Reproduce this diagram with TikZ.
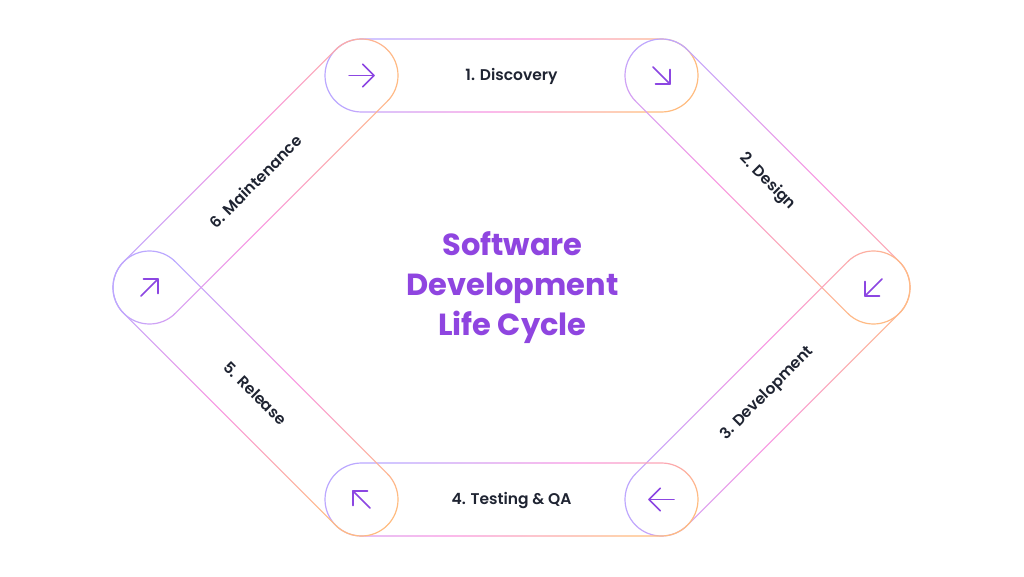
\documentclass[tikz,border=0pt]{standalone}
\usepackage{fontspec}
\setmainfont{Poppins}
\newfontfamily\lblfont{Poppins}[UprightFont={* SemiBold}]
\newfontfamily\ttlfont{Poppins}[UprightFont={* Bold}]
\usetikzlibrary{calc}
\definecolor{lav}{HTML}{BBA8FF}
\definecolor{pnk}{HTML}{F995E2}
\definecolor{orn}{HTML}{FFBC80}
\definecolor{ttl}{HTML}{8F45E0}
\definecolor{arw}{HTML}{8C46E2}
\definecolor{ink}{HTML}{1F2432}
\newcommand\stadpath[4]{($(#1)+(#3+90:#4)$) -- ($(#2)+(#3+90:#4)$) arc[start angle=#3+90, end angle=#3-90, radius=#4] -- ($(#1)+(#3-90:#4)$) arc[start angle=#3-90, end angle=#3-270, radius=#4] -- cycle}
\newcommand\ring[4]{\shade[even odd rule, top color=lav, bottom color=orn, middle color=pnk, shading angle=#4] \stadpath{#1}{#2}{#3}{37.1} \stadpath{#1}{#2}{#3}{35.9};}
\newcommand\harrow[2]{% center, angle
  \draw[arrowline] ($(#1)+(#2+180:12.5)$) -- ($(#1)+(#2:12.5)$);
  \draw[arrowline] ($(#1)+(#2:12.5)+(#2+135:16)$) -- ($(#1)+(#2:12.5)$) -- ($(#1)+(#2:12.5)+(#2-135:16)$);}
\newcommand\darrow[2]{% center, angle
  \draw[arrowline] ($(#1)+(#2+180:12)$) -- ($(#1)+(#2:12)$);
  \draw[arrowline] ($(#1)+(#2:12)+(#2+135:14.5)$) -- ($(#1)+(#2:12)$) -- ($(#1)+(#2:12)+(#2-135:14.5)$);}
\tikzset{
  arrowline/.style={draw=arw, line width=1.5pt, line cap=round, line join=round},
  lbl/.style={text=ink, font=\lblfont\fontsize{15.5}{18}\selectfont, inner sep=0pt},
  title/.style={text=ttl, font=\ttlfont\fontsize{30.5}{40}\selectfont, align=center, inner sep=0pt}
}
\begin{document}
\begin{tikzpicture}[x=1pt,y=1pt]
\fill[white] (0,0) rectangle (1024,576);
\useasboundingbox (0,0) rectangle (1024,576);
\coordinate (v1) at (361.5,500.5);
\coordinate (v2) at (661.5,500.5);
\coordinate (v3) at (873.5,288.5);
\coordinate (v4) at (661.5,76.5);
\coordinate (v5) at (361.5,76.5);
\coordinate (v6) at (149.5,288.5);
% bars
\ring{v1}{v2}{0}{60}
\ring{v2}{v3}{-45}{0}
\ring{v3}{v4}{-135}{90}
\ring{v4}{v5}{180}{30}
\ring{v5}{v6}{135}{20}
\ring{v6}{v1}{45}{90}
% arrows
\harrow{v1}{0}
\darrow{v2}{-45}
\darrow{v3}{-135}
\harrow{v4}{180}
\darrow{v5}{135}
\darrow{v6}{45}
% labels
\node[lbl] (l1) at ($(v1)!0.5!(v2)+(0,-1)$) {1. Discovery};
\node[lbl, rotate=-45] (l2) at ($(v2)!0.5!(v3)$) {2. Design};
\node[lbl, rotate=45] (l3) at ($(v3)!0.5!(v4)$) {3. Development};
\node[lbl] (l4) at ($(v4)!0.5!(v5)+(0,-1)$) {4. Testing \& QA};
\node[lbl, rotate=-45] (l5) at ($(v5)!0.5!(v6)$) {5. Release};
\node[lbl, rotate=45] (l6) at ($(v6)!0.5!(v1)$) {6. Maintenance};
\node[title] (t) at (512.5,288) {Software\\Development\\Life Cycle};
\end{tikzpicture}
\end{document}
